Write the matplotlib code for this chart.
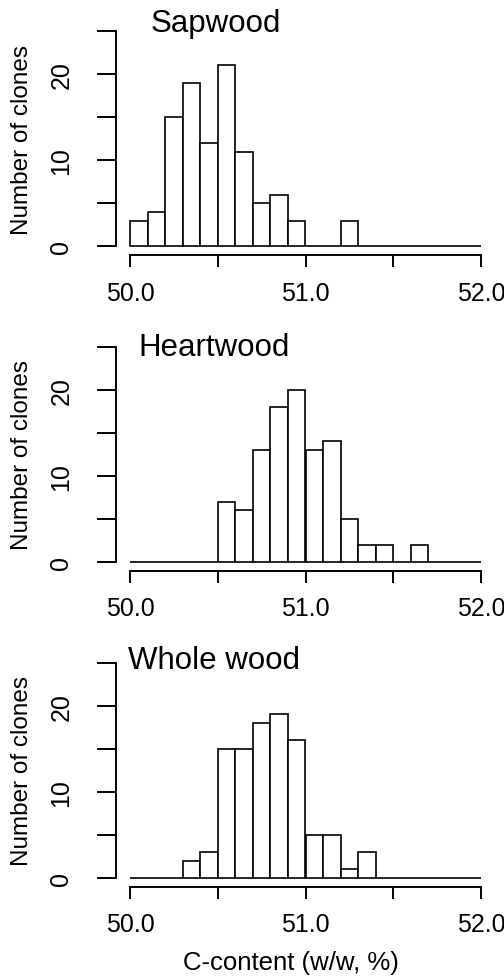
import numpy as np
import matplotlib
matplotlib.use("Agg")
import matplotlib.pyplot as plt

plt.rcParams["font.family"] = ["Liberation Sans", "DejaVu Sans"]

# Bin edges 50.0 .. 52.0 in steps of 0.1
BIN_LEFT = [50.0, 50.1, 50.2, 50.3, 50.4, 50.5, 50.6, 50.7, 50.8, 50.9,
            51.0, 51.1, 51.2, 51.3, 51.4, 51.5, 51.6, 51.7, 51.8, 51.9]
BIN_WIDTH = 0.1

sapwood = [3, 4, 15, 19, 12, 21, 11, 5, 6, 3, 0, 0, 3, 0, 0, 0, 0, 0, 0, 0]
heartwood = [0, 0, 0, 0, 0, 7, 6, 13, 18, 20, 13, 14, 5, 2, 2, 0, 2, 0, 0, 0]
wholewood = [0, 0, 0, 2, 3, 15, 15, 18, 19, 16, 5, 5, 1, 3, 0, 0, 0, 0, 0, 0]

titles = ["Sapwood", "Heartwood", "Whole wood"]
counts = [sapwood, heartwood, wholewood]
title_x = [50.115, 50.045, 49.99]   # left edge of the panel title (data units)
title_y = [25.0, 24.0, 24.4]        # baseline of the panel title

y_ticks = [0, 5, 10, 15, 20, 25]
y_labels = ["0", "", "10", "", "20", ""]
x_ticks = [50.0, 50.5, 51.0, 51.5, 52.0]
x_labels = ["50.0", "", "51.0", "", "52.0"]

W, H = 504, 978
fig = plt.figure(figsize=(W / 100, H / 100), dpi=100)

# axes bottoms in pixels from top (plot region incl. R's 4% padding)
bottoms_px = [256, 571.6, 887.6]
ax_h_px = 232.6
left_px, right_px = 116, 495

for i, (title, vals) in enumerate(zip(titles, counts)):
    b = 1 - bottoms_px[i] / H
    ax = fig.add_axes([left_px / W, b, (right_px - left_px) / W, ax_h_px / H])
    ax.bar(BIN_LEFT, vals, width=BIN_WIDTH, align="edge",
           facecolor="white", edgecolor="black", linewidth=1.2)
    ax.set_xlim(49.92, 52.08)
    ax.set_ylim(-1, 26)

    for s in ("top", "right"):
        ax.spines[s].set_visible(False)
    ax.spines["left"].set_bounds(0, 25)
    ax.spines["bottom"].set_bounds(50, 52)
    ax.spines["left"].set_linewidth(1.4)
    ax.spines["bottom"].set_linewidth(1.4)

    ax.set_yticks(y_ticks)
    ax.set_yticklabels(y_labels)
    ax.set_xticks(x_ticks)
    ax.set_xticklabels(x_labels)
    ax.tick_params(axis="y", length=13.7, width=1.4, pad=17, labelsize=18,
                   labelrotation=90)
    for lab in ax.get_yticklabels():
        lab.set_verticalalignment("center")
    ax.tick_params(axis="x", length=8.6, width=1.4, pad=10, labelsize=18)

    ax.set_ylabel("Number of clones", fontsize=17.5)
    ax.yaxis.set_label_coords(-0.22, 0.5)

    ax.text(title_x[i], title_y[i], title, fontsize=22.5, ha="left",
            va="baseline", clip_on=False)

fig.text(291 / W, 1 - 963 / H, "C-content (w/w, %)", fontsize=18.5,
         ha="center", va="center")

fig.savefig("out.png", dpi=100)
